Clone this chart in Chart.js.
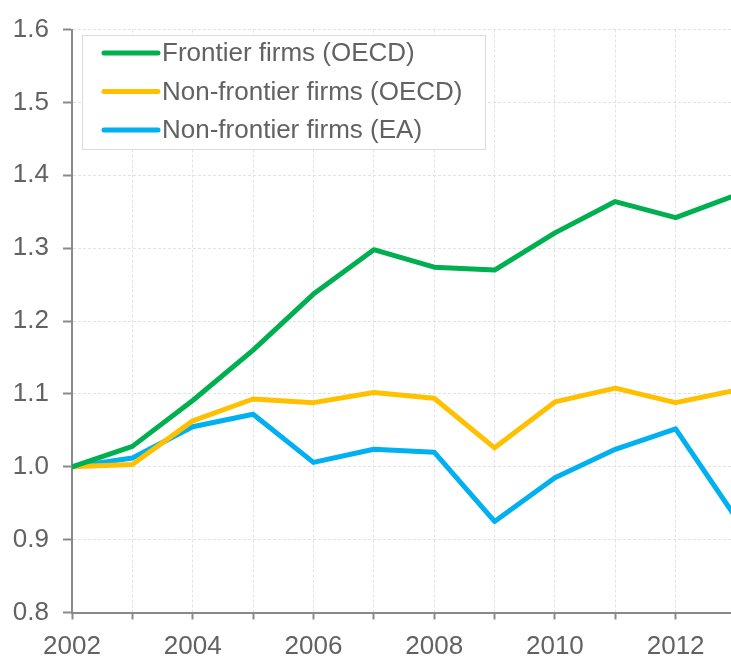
<!DOCTYPE html>
<html>
<head>
<meta charset="utf-8">
<script src="https://cdn.jsdelivr.net/npm/chart.js@4/dist/chart.umd.min.js"></script>
<style>
  html, body { margin: 0; padding: 0; background: #fff; overflow: hidden; }
  #wrap { width: 736px; height: 658px; }
</style>
</head>
<body>
<div id="wrap"><canvas id="c" width="736" height="658"></canvas></div>
<script>
const years = [2002, 2003, 2004, 2005, 2006, 2007, 2008, 2009, 2010, 2011, 2012, 2013];
const frontierOECD = [1.000, 1.028, 1.091, 1.160, 1.237, 1.298, 1.274, 1.270, 1.321, 1.364, 1.342, 1.373];
const nonFrontierOECD = [1.000, 1.003, 1.063, 1.093, 1.088, 1.102, 1.094, 1.026, 1.089, 1.108, 1.088, 1.105];
const nonFrontierEA = [1.000, 1.012, 1.055, 1.072, 1.006, 1.024, 1.020, 0.925, 0.985, 1.024, 1.052, 0.930];
const seriesLabels = ['Frontier firms (OECD)', 'Non-frontier firms (OECD)', 'Non-frontier firms (EA)'];
const seriesColors = ['#00B050', '#FFC000', '#00B0F0'];
const yTicks = [0.8, 0.9, 1.0, 1.1, 1.2, 1.3, 1.4, 1.5, 1.6];

const FONT = "'Liberation Sans', Arial, sans-serif";
const TEXT = '#626262';
const AXIS = '#8a8a8a';
const GRID = '#e2e2e2';

function pts(vals) { return years.map((y, i) => ({ x: y, y: vals[i] })); }

const allSeries = [frontierOECD, nonFrontierOECD, nonFrontierEA];
const datasets = allSeries.map((vals, i) => ({
  label: seriesLabels[i],
  data: pts(vals),
  borderColor: seriesColors[i],
  backgroundColor: seriesColors[i],
  borderWidth: 5,
  pointRadius: 0,
  pointHoverRadius: 0,
  tension: 0,
  borderJoinStyle: 'round',
  borderCapStyle: 'round',
  fill: false
}));

const insideLegend = {
  id: 'insideLegend',
  afterDraw(chart) {
    const ctx = chart.ctx;
    ctx.save();
    const bx = 82, by = 35, bw = 403, bh = 114;
    ctx.fillStyle = '#ffffff';
    ctx.fillRect(bx, by, bw, bh);
    ctx.strokeStyle = '#dcdcdc';
    ctx.lineWidth = 1;
    ctx.strokeRect(bx + 0.5, by + 0.5, bw, bh);
    chart.data.datasets.forEach((ds, i) => {
      const y = 53 + i * 38.5;
      ctx.strokeStyle = ds.borderColor;
      ctx.lineWidth = 5;
      ctx.lineCap = 'round';
      ctx.beginPath();
      ctx.moveTo(104, y);
      ctx.lineTo(158, y);
      ctx.stroke();
      ctx.fillStyle = TEXT;
      ctx.font = '26px ' + FONT;
      ctx.textBaseline = 'middle';
      ctx.textAlign = 'left';
      ctx.fillText(ds.label, 162, y + 1);
    });
    ctx.restore();
  }
};

new Chart(document.getElementById('c'), {
  type: 'line',
  data: { datasets },
  options: {
    responsive: false,
    animation: false,
    devicePixelRatio: 1,
    layout: { padding: { left: 0, right: 0, top: 19.5, bottom: 0 } },
    plugins: { legend: { display: false }, tooltip: { enabled: false } },
    scales: {
      x: {
        type: 'linear',
        min: years[0],
        max: years[years.length - 1],
        afterFit(scale) { scale.height = 45.5; scale.paddingRight = 0; scale.paddingLeft = 0; },
        ticks: {
          stepSize: 1,
          autoSkip: false,
          maxRotation: 0,
          padding: 12,
          color: TEXT,
          font: { family: FONT, size: 26 },
          callback: (v) => (v % 2 === 0 ? String(v) : '')
        },
        grid: { color: GRID, lineWidth: 1, tickColor: AXIS, tickWidth: 2, tickLength: 7 },
        border: { display: true, color: AXIS, width: 2, dash: [3, 2] }
      },
      y: {
        min: yTicks[0],
        max: yTicks[yTicks.length - 1],
        afterFit(scale) { scale.width = 72; },
        afterBuildTicks(scale) { scale.ticks = yTicks.map(v => ({ value: v })); },
        ticks: {
          padding: 14,
          color: TEXT,
          font: { family: FONT, size: 26 },
          callback: (v) => Number(v).toFixed(1)
        },
        grid: { color: GRID, lineWidth: 1, tickColor: AXIS, tickWidth: 2, tickLength: 9 },
        border: { display: true, color: AXIS, width: 2, dash: [3, 2] }
      }
    }
  },
  plugins: [insideLegend]
});
</script>
</body>
</html>
